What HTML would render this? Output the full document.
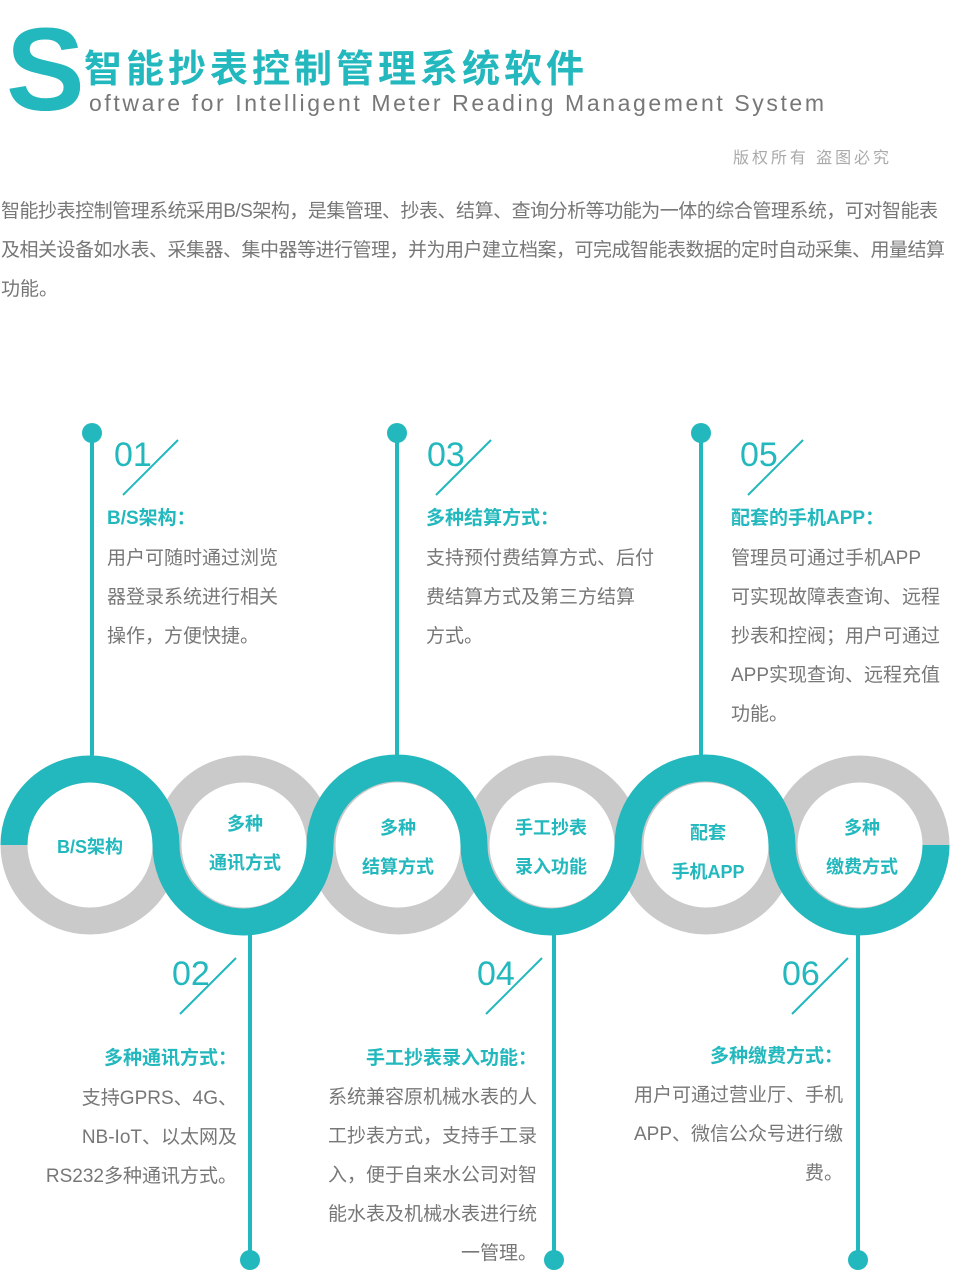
<!DOCTYPE html>
<html><head><meta charset="utf-8"><style>
html,body{margin:0;padding:0;background:#fff;width:954px;height:1280px;overflow:hidden}
svg{display:block}
text{font-family:"Liberation Sans","Noto Sans CJK SC",sans-serif}
.b{fill:#777;font-size:19px}
.h{fill:#22b8bd;font-size:19px;font-weight:bold}
.n{fill:#22b8bd;font-size:34px}
.r{fill:#22b8bd;font-size:18px;font-weight:bold}
</style></head><body>
<svg width="954" height="1280" viewBox="0 0 954 1280">
<text x="6" y="110" style="font-size:118px;font-weight:bold;fill:#22b8bd">S</text>
<text x="84" y="82" style="font-size:38px;font-weight:bold;fill:#22b8bd" textLength="500">智能抄表控制管理系统软件</text>
<text x="89" y="111" style="font-size:23px;fill:#777" textLength="735">oftware for Intelligent Meter Reading Management System</text>
<text x="733" y="163" style="font-size:16px;fill:#aaa" textLength="156">版权所有  盗图必究</text>
<text class="b" x="1" y="217" textLength="937">智能抄表控制管理系统采用B/S架构，是集管理、抄表、结算、查询分析等功能为一体的综合管理系统，可对智能表</text>
<text class="b" x="1" y="256" textLength="944">及相关设备如水表、采集器、集中器等进行管理，并为用户建立档案，可完成智能表数据的定时自动采集、用量结算</text>
<text class="b" x="1" y="295">功能。</text>

<g stroke="#22b8bd" stroke-width="4">
<line x1="92" y1="433" x2="92" y2="760"/><line x1="397" y1="433" x2="397" y2="760"/><line x1="701" y1="433" x2="701" y2="760"/>
<line x1="250" y1="930" x2="250" y2="1260"/><line x1="554" y1="930" x2="554" y2="1260"/><line x1="858" y1="930" x2="858" y2="1260"/>
</g>
<g fill="#22b8bd">
<circle cx="92" cy="433" r="10"/><circle cx="397" cy="433" r="10"/><circle cx="701" cy="433" r="10"/>
<circle cx="250" cy="1260" r="10"/><circle cx="554" cy="1260" r="10"/><circle cx="858" cy="1260" r="10"/>
</g>

<g fill="none" stroke="#cacaca" stroke-width="27">
<circle cx="90" cy="845" r="76"/><circle cx="244" cy="845" r="76"/><circle cx="398" cy="845" r="76"/>
<circle cx="552" cy="845" r="76"/><circle cx="706" cy="845" r="76"/><circle cx="860" cy="845" r="76"/>
</g>
<g fill="none" stroke="#22b8bd" stroke-width="27">
<path d="M14 845 A76 76 0 0 1 166 845 A76 76 0 0 0 320 845 A76 76 0 0 1 474 845 A76 76 0 0 0 628 845 A76 76 0 0 1 782 845 A76 76 0 0 0 936 845"/>
</g>
<g text-anchor="middle">
<text class="r" x="90" y="853">B/S架构</text>
<text class="r" x="245" y="830">多种</text><text class="r" x="245" y="869">通讯方式</text>
<text class="r" x="398" y="834">多种</text><text class="r" x="398" y="873">结算方式</text>
<text class="r" x="551" y="834">手工抄表</text><text class="r" x="551" y="873">录入功能</text>
<text class="r" x="708" y="839">配套</text><text class="r" x="708" y="878">手机APP</text>
<text class="r" x="862" y="834">多种</text><text class="r" x="862" y="873">缴费方式</text>
</g>

<g stroke="#22b8bd" stroke-width="2">
<line x1="123" y1="495" x2="178" y2="440"/><line x1="436" y1="495" x2="491" y2="440"/><line x1="748" y1="495" x2="803" y2="440"/>
<line x1="180" y1="1014" x2="236" y2="958"/><line x1="486" y1="1014" x2="542" y2="958"/><line x1="792" y1="1014" x2="848" y2="958"/>
</g>
<text class="n" x="114" y="466">01</text><text class="n" x="427" y="466">03</text><text class="n" x="740" y="466">05</text>
<text class="n" x="172" y="985">02</text><text class="n" x="477" y="985">04</text><text class="n" x="782" y="985">06</text>

<text class="h" x="107" y="524">B/S架构：</text>
<text class="b" x="107" y="564">用户可随时通过浏览</text>
<text class="b" x="107" y="603">器登录系统进行相关</text>
<text class="b" x="107" y="642">操作，方便快捷。</text>

<text class="h" x="426" y="524">多种结算方式：</text>
<text class="b" x="426" y="564">支持预付费结算方式、后付</text>
<text class="b" x="426" y="603">费结算方式及第三方结算</text>
<text class="b" x="426" y="642">方式。</text>

<text class="h" x="731" y="524">配套的手机APP：</text>
<text class="b" x="731" y="564">管理员可通过手机APP</text>
<text class="b" x="731" y="603">可实现故障表查询、远程</text>
<text class="b" x="731" y="642">抄表和控阀；用户可通过</text>
<text class="b" x="731" y="681">APP实现查询、远程充值</text>
<text class="b" x="731" y="720">功能。</text>

<g text-anchor="end">
<text class="h" x="237" y="1064">多种通讯方式：</text>
<text class="b" x="237" y="1104">支持GPRS、4G、</text>
<text class="b" x="237" y="1143">NB-IoT、以太网及</text>
<text class="b" x="237" y="1182">RS232多种通讯方式。</text>

<text class="h" x="537" y="1064">手工抄表录入功能：</text>
<text class="b" x="537" y="1103">系统兼容原机械水表的人</text>
<text class="b" x="537" y="1142">工抄表方式，支持手工录</text>
<text class="b" x="537" y="1181">入，便于自来水公司对智</text>
<text class="b" x="537" y="1220">能水表及机械水表进行统</text>
<text class="b" x="537" y="1259">一管理。</text>

<text class="h" x="843" y="1062">多种缴费方式：</text>
<text class="b" x="843" y="1101">用户可通过营业厅、手机</text>
<text class="b" x="843" y="1140">APP、微信公众号进行缴</text>
<text class="b" x="843" y="1179">费。</text>
</g>
</svg>
</body></html>
